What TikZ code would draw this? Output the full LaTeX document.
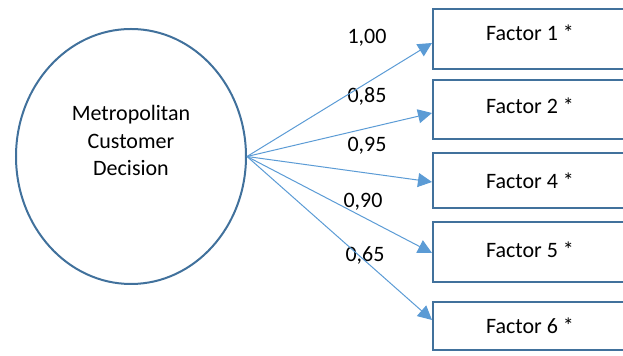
\documentclass[tikz,border=0pt]{standalone}
\usepackage{fontspec}
\setmainfont{Carlito}
\usetikzlibrary{shapes.geometric,arrows.meta}
\definecolor{rimblue}{HTML}{41719C}
\definecolor{linkblue}{HTML}{5B9BD5}

\begin{document}
\begin{tikzpicture}[x=0.5pt, y=-0.5pt, node distance=35.5pt,
  every node/.style={font=\fontsize{11}{13.7}\selectfont},
  latent node/.style={draw=rimblue, line width=1pt, ellipse, minimum width=115pt, minimum height=127.5pt, inner sep=0pt, align=center, text depth=16pt},
  factor node/.style={draw=rimblue, line width=1pt, minimum width=97pt, inner sep=0pt},
  loading/.style={draw=linkblue, line width=0.5pt, -{Triangle[length=7pt,width=7pt,fill=linkblue]}}]
\useasboundingbox (0,0) rectangle (623,356);
\clip (0,0) rectangle (623,356);

\node[latent node] (cdm) at (131,156.5) {Metropolitan\\Customer\\Decision};

\node[factor node, minimum height=30pt, text depth=6pt]                (f1) at (530,39) {Factor 1 *};
\node[factor node, minimum height=29.5pt, text depth=4pt, below of=f1] (f2) {Factor 2 *};
\node[factor node, minimum height=27.5pt, below of=f2]                 (f4) {Factor 4 *};
\node[factor node, minimum height=30pt, text depth=2pt, below of=f4]   (f5) {Factor 5 *};
\node[factor node, minimum height=24pt, below of=f5, yshift=-1.5pt]    (f6) {Factor 6 *};

\node (w1) at (367,38)  {1,00};
\node (w2) at (367,96)  {0,85};
\node (w4) at (367,146) {0,95};
\node (w5) at (363,202) {0,90};
\node (w6) at (365,255) {0,65};

\draw[loading] (cdm.east) -- ([yshift=-2pt]f1.west);
\draw[loading] (cdm.east) -- ([yshift=-1.5pt]f2.west);
\draw[loading] (cdm.east) -- ([yshift=-0.5pt]f4.west);
\draw[loading] (cdm.east) -- ([yshift=-0.5pt]f5.west);
\draw[loading] (cdm.east) -- ([yshift=3pt]f6.west);
\end{tikzpicture}
\end{document}
